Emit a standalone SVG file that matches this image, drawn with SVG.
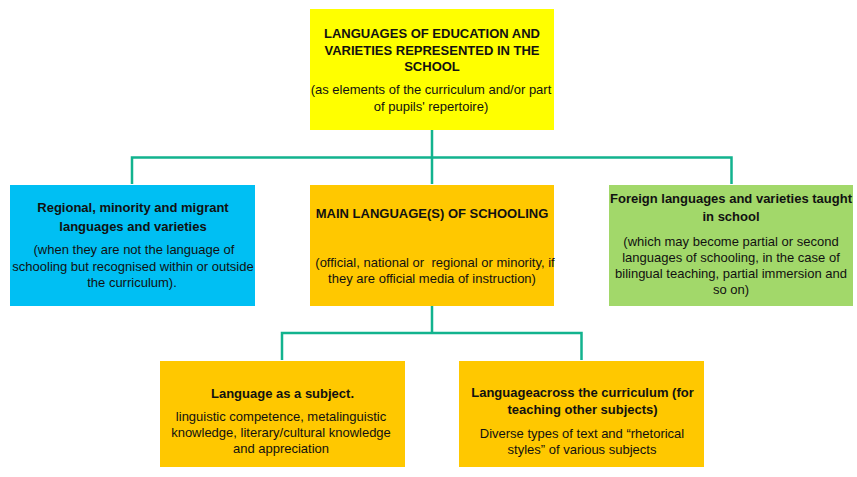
<svg xmlns="http://www.w3.org/2000/svg" width="857" height="477" viewBox="0 0 857 477">
  <style>
    text { font-family: "Liberation Sans", Arial, sans-serif; font-size: 13px; fill: #111; text-anchor: middle; }
    .b { font-weight: bold; }
    .link { fill: none; stroke: #12B38E; stroke-width: 2.5; stroke-linecap: butt; }
    .yellow { fill: #FFFF00; }
    .blue { fill: #00BFF3; }
    .orange { fill: #FFC800; }
    .green { fill: #A2D86A; }
  </style>
  <rect width="857" height="477" fill="#FFFFFF"/>

  <!-- tree connectors -->
  <g id="connectors">
    <path class="link" d="M432 130 V184 M132 184 V157.5 H731.5 V184"/>
    <path class="link" d="M432 305 V333 M282 360 V333 H581.5 V360"/>
  </g>

  <g id="languages-of-education">
    <rect class="yellow" x="310" y="9" width="244" height="121"/>
    <text class="b" x="432" y="38">LANGUAGES OF EDUCATION AND</text>
    <text class="b" x="432" y="54.5">VARIETIES REPRESENTED IN THE</text>
    <text class="b" x="432" y="71">SCHOOL</text>
    <text x="431" y="94">(as elements of the curriculum and/or part</text>
    <text x="431" y="111">of pupils' repertoire)</text>
  </g>

  <g id="regional-minority-migrant">
    <rect class="blue" x="10" y="185" width="245" height="121"/>
    <text class="b" x="133" y="212">Regional, minority and migrant</text>
    <text class="b" x="133" y="230.5">languages and varieties</text>
    <text x="134" y="254">(when they are not the language of</text>
    <text x="133" y="271">schooling but recognised within or outside</text>
    <text x="132" y="287">the curriculum).</text>
  </g>

  <g id="main-language-of-schooling">
    <rect class="orange" x="310" y="185" width="244" height="121"/>
    <text class="b" x="432" y="218">MAIN LANGUAGE(S) OF SCHOOLING</text>
    <text x="435" y="267" xml:space="preserve">(official, national or  regional or minority, if</text>
    <text x="432" y="283">they are official media of instruction)</text>
  </g>

  <g id="foreign-languages">
    <rect class="green" x="609" y="185" width="244" height="121"/>
    <text class="b" x="731" y="203">Foreign languages and varieties taught</text>
    <text class="b" x="731" y="221">in school</text>
    <text x="731" y="245.5">(which may become partial or second</text>
    <text x="731" y="262">languages of schooling, in the case of</text>
    <text x="731" y="278">bilingual teaching, partial immersion and</text>
    <text x="731" y="294">so on)</text>
  </g>

  <g id="language-as-subject">
    <rect class="orange" x="160" y="361" width="245" height="106"/>
    <text class="b" x="282.5" y="398">Language as a subject.</text>
    <text x="281" y="420.5">linguistic competence, metalinguistic</text>
    <text x="281" y="437">knowledge, literary/cultural knowledge</text>
    <text x="281" y="453">and appreciation</text>
  </g>

  <g id="language-across-curriculum">
    <rect class="orange" x="459" y="361" width="245" height="106"/>
    <text class="b" x="582.5" y="397">Languageacross the curriculum (for</text>
    <text class="b" x="582.5" y="414">teaching other subjects)</text>
    <text x="582" y="438">Diverse types of text and “rhetorical</text>
    <text x="582" y="454">styles” of various subjects</text>
  </g>
</svg>
